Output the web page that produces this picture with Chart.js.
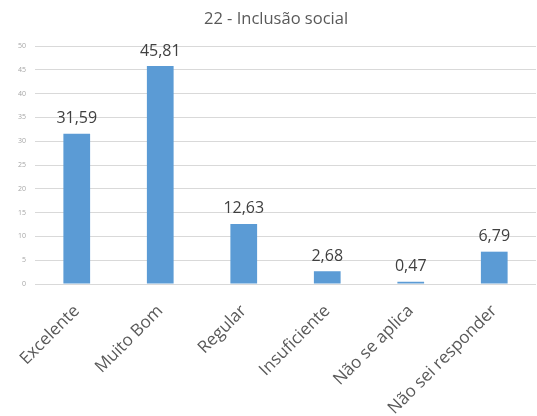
<!DOCTYPE html>
<html><head><meta charset="utf-8">
<script src="https://cdn.jsdelivr.net/npm/chart.js@4"></script>
<style>html,body{margin:0;padding:0;background:#fff}#w{width:537px;height:416px}</style>
</head><body><div id="w"><canvas id="c"></canvas></div>
<script>
const categories = ["Excelente","Muito Bom","Regular","Insuficiente","Não se aplica","Não sei responder"];
const values = [31.59, 45.81, 12.63, 2.68, 0.47, 6.79];
const yTicks = [0,5,10,15,20,25,30,35,40,45,50];
const title = "22 - Inclusão social";

const labelPlugin = {
  id: 'vlabels',
  afterDatasetsDraw(chart) {
    const ctx = chart.ctx;
    const meta = chart.getDatasetMeta(0);
    ctx.save();
    ctx.font = '16px "Open Sans"';
    ctx.fillStyle = '#404040';
    ctx.textAlign = 'center';
    ctx.textBaseline = 'middle';
    meta.data.forEach((bar, i) => {
      ctx.fillText(values[i].toFixed(2).replace('.', ','), bar.x, bar.y - 15);
    });
    ctx.restore();
  },
  afterDraw(chart) {
    const ctx = chart.ctx;
    ctx.save();
    ctx.font = '16.5px "Open Sans"';
    ctx.fillStyle = '#595959';
    ctx.textAlign = 'center';
    ctx.textBaseline = 'middle';
    ctx.fillText(title, 276, 19);
    ctx.restore();
  }
};

new Chart(document.getElementById('c'), {
  type: 'bar',
  data: { labels: categories, datasets: [{ data: values, backgroundColor: '#5b9bd5',
    categoryPercentage: 1, barPercentage: 0.32 }] },
  options: {
    responsive: true, maintainAspectRatio: false, animation: false,
    devicePixelRatio: 1,
    layout: { padding: { left: 0, right: 1, top: 46, bottom: 0 } },
    plugins: {
      legend: { display: false }, tooltip: { enabled: false },
      title: { display: false }
    },
    scales: {
      x: {
        grid: { display: false }, border: { display: false },
        ticks: { color: '#595959', font: { family: '"Open Sans"', size: 17 },
          maxRotation: 45, minRotation: 45, padding: 9 },
        afterFit(s) { s.height = 132; }
      },
      y: {
        min: 0, max: 50,
        afterBuildTicks(s) { s.ticks = yTicks.map(v => ({ value: v })); },
        grid: { color: '#d9d9d9', drawTicks: false }, border: { display: false },
        ticks: { color: '#a6a6a6', font: { family: '"Open Sans"', size: 7 }, padding: 9 },
        afterFit(s) { s.width = 35; }
      }
    }
  },
  plugins: [labelPlugin]
});
</script></body></html>
